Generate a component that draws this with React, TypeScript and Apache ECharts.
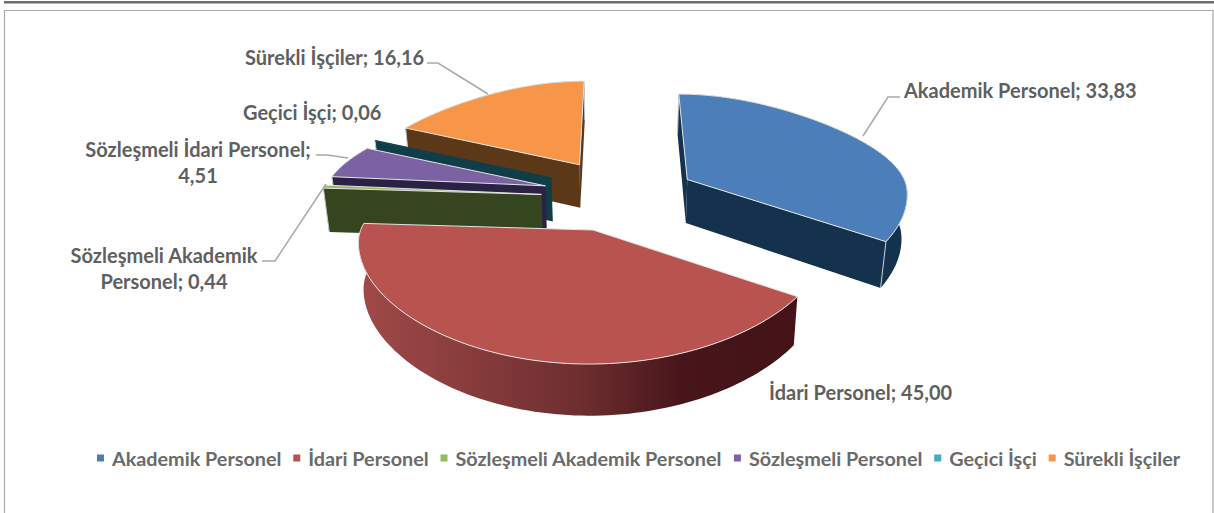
import React, { useEffect, useRef } from "react";
import * as echarts from "echarts";

const categories = ["Akademik Personel", "İdari Personel", "Sözleşmeli Akademik Personel", "Sözleşmeli Personel", "Geçici İşçi", "Sürekli İşçiler"];
const values = [33.83, 45.0, 0.44, 4.51, 0.06, 16.16];
const labelNames = ["Akademik Personel", "İdari Personel", "Sözleşmeli Akademik\nPersonel", "Sözleşmeli İdari Personel;\n", "Geçici İşçi", "Sürekli İşçiler"];
const topColors = ["#4c7fb9", "#b9534f", "#93bb5c", "#7b62a2", "#46aac4", "#f79648"];
const wallColors = ["#14324e", "#6f2e30", "#35451f", "#2a2245", "#0f3e48", "#5a3818"];
const drawOrder = [5, 4, 3, 2, 0, 1];
const apexNudge: [number, number][] = [[3, 0], [6, -3], [-1, 6], [-1, 3], [0, 0], [0, 0]];

const labelPos: [number, number, string][] = [
  [904, 90, "left"], [769, 392, "left"], [164, 267.5, "center"], [198, 162, "center"], [243, 112, "left"], [245, 57, "left"],
];
const leaders: number[][][] = [
  [[863, 136], [888, 97], [900, 97]],
  [],
  [[326, 184], [275, 261], [262, 261]],
  [[316, 155], [327, 155], [348, 158]],
  [],
  [[488, 94], [438, 63], [427, 63]],
];

const FONT = "Lato";
const X0 = 617, Y0 = 198, EX = 77, EY = 38, VY = -526;
const RX = 222, B = 105, K = 0.09, C = 0.1, KX = 0.3, PHI = (4.5 * Math.PI) / 180, PHI_L = (3 * Math.PI) / 180, LEAN = 0.02, T = 44;

const total = values.reduce((a, b) => a + b, 0);
const rad = (p: number) => (p / total) * Math.PI * 2;

function sliceGeom(i: number) {
  const before = values.slice(0, i).reduce((a, b) => a + b, 0);
  const a0 = rad(before), a1 = rad(before + values[i]);
  const mid = (a0 + a1) / 2;
  const u = Math.sin(mid), v = Math.cos(mid);
  const apex: [number, number] = [X0 + EX * u + apexNudge[i][0], Y0 - EY * v + apexNudge[i][1]];
  const S = (apex[1] - VY) / (190 - VY);
  const rim = (t0: number): [number, number] => {
    const t = t0 - PHI * Math.sin(t0 / 2) ** 2 - PHI_L * (t0 > Math.PI ? Math.sin(t0) ** 2 : 0);
    const cv = Math.cos(t), su = Math.sin(t);
    const dy = (-B * (cv - C) * S) / (1 + K * cv);
    const dx = (RX * su * S) / (1 + KX * Math.max(0, cv) ** 2) + ((X0 - apex[0]) * -dy) / (apex[1] - VY);
    return [apex[0] + dx, apex[1] + dy];
  };
  const n = Math.max(2, Math.ceil((a1 - a0) / 0.03));
  const arc: [number, number][] = [];
  for (let j = 0; j <= n; j++) arc.push(rim(a0 + ((a1 - a0) * j) / n));
  return { apex, arc, midPt: rim(mid) };
}
const down = (p: [number, number]): [number, number] => [
  p[0] - (p[0] - X0) * LEAN,
  p[1] + T * (1 + (p[1] - 190) / 1000),
];
const crossSign = (e: number[], d: number[]) => e[0] * d[1] - e[1] * d[0];

function renderSlice(i: number) {
  const { apex, arc, midPt } = sliceGeom(i);
  const children: any[] = [];
  const wallFill: any =
    i === 1
      ? new echarts.graphic.LinearGradient(0, 0, 1, 0, [
          { offset: 0, color: "#a04a48" },
          { offset: 0.5, color: "#6f2e30" },
          { offset: 0.74, color: "#47151a" },
          { offset: 1, color: "#431318" },
        ])
      : wallColors[i];
  const faceFill = i === 1 ? "#461418" : wallColors[i];
  children.push({
    type: "polygon",
    shape: { points: [...arc, ...arc.slice().reverse().map(down)] },
    style: { fill: wallFill },
  });
  const d = [midPt[0] - apex[0], midPt[1] - apex[1]];
  [arc[0], arc[arc.length - 1]].forEach((p) => {
    const e = [p[0] - apex[0], p[1] - apex[1]];
    if (Math.sign(crossSign(e, [0, 1])) !== Math.sign(crossSign(e, d))) {
      children.push({
        type: "polygon",
        shape: { points: [apex, p, down(p), down(apex)] },
        style: { fill: faceFill },
      });
      children.push({
        type: "line",
        shape: { x1: p[0], y1: p[1], x2: down(p)[0], y2: down(p)[1] },
        style: { stroke: "#c8ccd0", lineWidth: 1 },
      });
    }
  });
  children.push({
    type: "polygon",
    shape: { points: [apex, ...arc] },
    style: { fill: topColors[i], stroke: values[i] < 0.2 ? wallColors[i] : "#e4e4e4", lineWidth: 1 },
  });
  return { type: "group", children };
}

const labelText = (i: number) => {
  const v = values[i].toFixed(2).replace(".", ",");
  const n = labelNames[i];
  return n.endsWith("\n") ? `${n}${v}` : `${n}; ${v}`;
};

export default function App() {
  const ref = useRef<HTMLDivElement>(null);
  useEffect(() => {
    const chart = echarts.init(ref.current!, null, { renderer: "svg" });
    chart.setOption({
      animation: false,
      backgroundColor: "#ffffff",
      legend: {
        data: categories,
        left: 92,
        top: 443,
        icon: "rect",
        itemWidth: 7,
        itemHeight: 7,
        itemGap: 11.8,
        textStyle: { fontFamily: FONT, fontWeight: "bold", fontSize: 19.8, color: "#6a6a6a", padding: [0, 0, 0, 3] },
        selectedMode: false,
      },
      series: drawOrder.map((i) => ({
        type: "custom",
        name: categories[i],
        coordinateSystem: "none",
        z: 2,
        itemStyle: { color: topColors[i] },
        data: [[values[i]]],
        renderItem: () => renderSlice(i),
      })),
      graphic: [
        { type: "rect", shape: { x: 4, y: 1, width: 1210, height: 2.5 }, style: { fill: "#6e6e6e" } },
        { type: "polyline", shape: { points: [[4.5, 513], [4.5, 10.5], [1213, 10.5], [1213, 513]] }, style: { fill: "none", stroke: "#a9a9a9", lineWidth: 1.2 } },
        ...leaders.filter((l) => l.length).map((pts) => ({
          type: "polyline",
          z: 5,
          shape: { points: pts },
          style: { fill: "none", stroke: "#a9a9a9", lineWidth: 1.5 },
        })),
        ...values.map((_, i) => ({
          type: "text",
          z: 5,
          x: labelPos[i][0],
          y: labelPos[i][1],
          style: {
            text: labelText(i),
            fontFamily: FONT,
            fontWeight: "bold",
            fontSize: 20,
            lineHeight: 26,
            fill: "#5f5f5f",
            align: labelPos[i][2],
            verticalAlign: "middle",
          },
        })),
      ],
    });
    return () => chart.dispose();
  }, []);
  return <div ref={ref} style={{ position: "absolute", left: 0, top: 0, width: 1214, height: 513 }} />;
}
